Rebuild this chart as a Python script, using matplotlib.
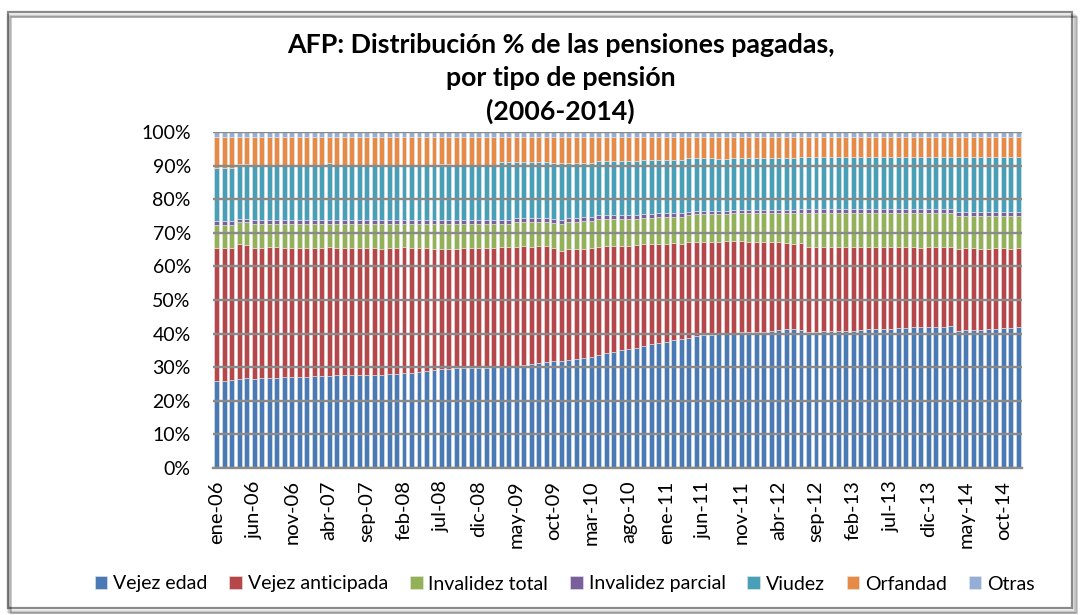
import matplotlib
matplotlib.use("Agg")
import matplotlib.pyplot as plt
import numpy as np
from matplotlib.patches import Rectangle

plt.rcParams['font.family'] = ['Lato', 'DejaVu Sans']

meses = ['ene', 'feb', 'mar', 'abr', 'may', 'jun', 'jul', 'ago', 'sep', 'oct', 'nov', 'dic']
anios = ['06', '07', '08', '09', '10', '11', '12', '13', '14']
periodos = [f'{m}-{a}' for a in anios for m in meses]

vejez_edad = [
    25.9, 26.0, 26.1, 26.5, 26.6, 26.6, 26.7, 26.8, 26.9, 27.0, 27.1, 27.2,
    27.2, 27.3, 27.4, 27.5, 27.6, 27.6, 27.7, 27.7, 27.8, 27.8, 27.8, 27.9,
    28.0, 28.2, 28.4, 28.7, 28.9, 29.1, 29.4, 29.5, 29.7, 29.8, 29.9, 29.9,
    29.9, 30.0, 30.0, 30.2, 30.4, 30.6, 30.9, 31.2, 31.4, 31.7, 31.8, 32.0,
    32.3, 32.7, 33.0, 33.5, 34.1, 34.6, 35.1, 35.4, 35.7, 36.2, 36.8, 37.1,
    37.4, 38.0, 38.4, 38.8, 39.3, 39.6, 39.6, 39.9, 40.1, 40.3, 40.4, 40.6,
    40.6, 40.6, 40.8, 41.0, 41.3, 41.4, 41.1, 40.6, 40.6, 40.9, 40.9, 40.7,
    40.8, 40.9, 41.1, 41.4, 41.5, 41.5, 41.5, 41.7, 41.8, 41.9, 42.0, 42.0,
    42.0, 42.1, 42.4, 40.8, 41.0, 41.2, 41.2, 41.4, 41.5, 41.7, 41.8, 41.9,
]
vejez_anticipada = [
    39.7, 39.6, 39.5, 39.9, 39.7, 38.9, 38.8, 39.1, 39.0, 38.5, 38.3, 38.2,
    38.3, 38.3, 38.1, 38.4, 38.0, 37.8, 37.7, 37.8, 37.6, 37.6, 37.5, 37.6,
    37.6, 37.5, 37.1, 36.7, 36.5, 36.2, 35.8, 35.7, 35.6, 35.6, 35.5, 35.5,
    35.6, 35.6, 35.9, 35.7, 35.5, 35.4, 35.0, 34.8, 34.7, 33.9, 32.8, 33.3,
    33.0, 32.6, 32.4, 32.4, 32.0, 31.6, 31.1, 30.8, 30.6, 30.6, 30.0, 29.7,
    29.4, 28.9, 28.4, 28.4, 28.1, 27.8, 27.8, 27.4, 27.4, 27.4, 27.1, 26.7,
    26.6, 26.6, 26.4, 26.3, 25.8, 25.3, 26.0, 25.3, 25.2, 24.9, 25.0, 25.1,
    24.9, 24.9, 24.7, 24.4, 24.4, 24.3, 24.3, 24.1, 24.1, 23.8, 23.6, 23.7,
    23.7, 23.6, 23.4, 24.5, 24.4, 24.2, 24.1, 23.9, 23.9, 23.7, 23.5, 23.5,
]
invalidez_total = [
    6.7, 6.7, 6.7, 6.7, 6.8, 7.0, 7.0, 6.6, 6.6, 7.0, 7.1, 7.1,
    7.0, 6.9, 7.0, 6.6, 6.9, 7.1, 7.1, 7.0, 7.1, 7.1, 7.2, 7.0,
    6.9, 6.8, 7.0, 7.1, 7.1, 7.2, 7.3, 7.3, 7.2, 7.1, 7.1, 7.1,
    7.0, 6.9, 6.6, 6.6, 7.2, 7.1, 7.2, 7.1, 7.0, 7.3, 8.0, 7.9,
    7.9, 8.2, 8.1, 8.2, 8.0, 7.9, 7.9, 7.9, 7.8, 7.7, 7.7, 8.0,
    8.0, 7.9, 8.0, 8.0, 8.1, 8.1, 8.1, 8.2, 8.0, 8.1, 8.3, 8.5,
    8.6, 8.6, 8.6, 8.5, 8.7, 9.1, 8.9, 10.1, 10.2, 10.2, 10.1, 10.2,
    10.3, 10.2, 10.2, 10.2, 10.1, 10.2, 10.2, 10.2, 10.1, 10.3, 10.4, 10.3,
    10.3, 10.3, 10.2, 9.6, 9.5, 9.5, 9.6, 9.6, 9.5, 9.5, 9.6, 9.5,
]
invalidez_parcial = [
    1.2, 1.2, 1.2, 1.0, 1.0, 1.2, 1.2, 1.2, 1.2, 1.2, 1.2, 1.2,
    1.2, 1.2, 1.2, 1.2, 1.2, 1.2, 1.2, 1.2, 1.2, 1.2, 1.2, 1.2,
    1.2, 1.2, 1.2, 1.2, 1.2, 1.2, 1.2, 1.2, 1.2, 1.2, 1.2, 1.2,
    1.2, 1.2, 1.2, 1.2, 1.2, 1.2, 1.2, 1.2, 1.2, 1.1, 1.1, 1.1,
    1.1, 1.1, 1.1, 1.1, 1.1, 1.1, 1.1, 1.1, 1.1, 1.1, 1.1, 1.1,
    1.1, 1.1, 1.1, 1.1, 1.1, 1.1, 1.1, 1.1, 1.1, 1.1, 1.1, 1.1,
    1.1, 1.1, 1.1, 1.1, 1.1, 1.1, 1.1, 1.1, 1.1, 1.1, 1.1, 1.1,
    1.1, 1.1, 1.1, 1.1, 1.1, 1.1, 1.1, 1.1, 1.1, 1.1, 1.1, 1.1,
    1.1, 1.1, 1.1, 1.3, 1.3, 1.3, 1.3, 1.3, 1.3, 1.3, 1.3, 1.3,
]
viudez = [
    15.9, 15.9, 15.9, 16.3, 16.3, 16.2, 16.2, 16.2, 16.2, 16.2, 16.2, 16.2,
    16.2, 16.2, 16.2, 17.0, 16.5, 16.5, 16.5, 16.5, 16.5, 16.5, 16.5, 16.5,
    16.5, 16.5, 16.5, 16.5, 16.5, 16.5, 16.9, 16.9, 16.6, 16.6, 16.6, 16.6,
    16.6, 16.6, 17.5, 17.5, 16.9, 16.9, 16.9, 16.9, 16.9, 16.7, 17.0, 16.6,
    16.6, 16.3, 16.3, 16.3, 16.3, 16.3, 16.3, 16.3, 16.3, 16.1, 16.1, 15.8,
    15.8, 15.8, 15.8, 15.9, 15.6, 15.6, 15.6, 15.3, 15.3, 15.5, 15.5, 15.5,
    15.5, 15.5, 15.5, 15.5, 15.5, 15.5, 15.6, 15.6, 15.6, 15.6, 15.6, 15.6,
    15.6, 15.6, 15.6, 15.6, 15.6, 15.6, 15.6, 15.6, 15.6, 15.6, 15.6, 15.6,
    15.6, 15.6, 15.6, 16.5, 16.5, 16.5, 16.5, 16.5, 16.5, 16.5, 16.5, 16.5,
]
orfandad = [
    9.0, 9.0, 9.0, 7.8, 7.8, 8.5, 8.5, 8.5, 8.5, 8.5, 8.5, 8.5,
    8.5, 8.5, 8.5, 7.7, 8.2, 8.2, 8.2, 8.2, 8.2, 8.2, 8.2, 8.2,
    8.2, 8.2, 8.2, 8.2, 8.2, 8.2, 7.8, 7.8, 8.1, 8.1, 8.1, 8.1,
    8.1, 8.1, 7.2, 7.2, 7.2, 7.2, 7.2, 7.2, 7.2, 7.7, 7.7, 7.5,
    7.5, 7.5, 7.5, 6.9, 6.9, 6.9, 6.9, 6.9, 6.9, 6.7, 6.7, 6.7,
    6.7, 6.7, 6.7, 6.2, 6.2, 6.2, 6.2, 6.5, 6.5, 6.0, 6.0, 6.0,
    6.0, 6.0, 6.0, 6.0, 6.0, 6.0, 5.7, 5.7, 5.7, 5.7, 5.7, 5.7,
    5.7, 5.7, 5.7, 5.7, 5.7, 5.7, 5.7, 5.7, 5.7, 5.7, 5.7, 5.7,
    5.7, 5.7, 5.7, 5.7, 5.7, 5.7, 5.7, 5.7, 5.7, 5.7, 5.7, 5.7,
]
otras = [1.6] * 108

series_nombres = ['Vejez edad', 'Vejez anticipada', 'Invalidez total',
                  'Invalidez parcial', 'Viudez', 'Orfandad', 'Otras']
series_valores = [vejez_edad, vejez_anticipada, invalidez_total,
                  invalidez_parcial, viudez, orfandad, otras]
colores = ['#4A7AB5', '#B5474A', '#93B157', '#79609C', '#479FB8', '#E68A45', '#94AED6']

fig = plt.figure(figsize=(10.8, 6.15), dpi=100)
fig.patch.set_facecolor('white')

# chart frame with soft shadow
for i, a in enumerate([0.10, 0.16, 0.25]):
    fig.add_artist(Rectangle((8 / 1080 + i * 0.0012, 4 / 615 - i * 0.002),
                             1066 / 1080, 596 / 615, transform=fig.transFigure,
                             fill=False, edgecolor='black', alpha=a, lw=2.5 - i * 0.7))
fig.add_artist(Rectangle((8 / 1080, 7 / 615), 1064 / 1080, 596 / 615,
                         transform=fig.transFigure, facecolor='white',
                         edgecolor='#8a8a8a', lw=1.6, zorder=-1))

ax = fig.add_axes([213 / 1080, (615 - 468) / 615, 809 / 1080, 336 / 615])
data = np.array(series_valores, dtype=float)
totals = data.sum(axis=0)
pct = data / totals * 100
x = np.arange(len(periodos))
bottom = np.zeros(len(periodos))
handles = []
for nombre, vals, c in zip(series_nombres, pct, colores):
    h = ax.bar(x, vals, bottom=bottom, width=0.66, color=c, label=nombre,
               edgecolor='#e8e8e8', linewidth=0.4, zorder=2)
    handles.append(h)
    bottom += vals

ax.set_xlim(-0.5, len(periodos) - 0.5)
ax.set_ylim(0, 100)
ax.set_yticks(np.arange(0, 101, 10))
ax.set_yticklabels([f'{v}%' for v in range(0, 101, 10)], fontsize=14)
ax.set_xticks(x[::5])
ax.set_xticklabels(periodos[::5], rotation=90, fontsize=14.5)
ax.tick_params(axis='y', length=0, pad=16)
ax.tick_params(axis='x', length=0, pad=9)
ax.grid(axis='y', color='#8a8a8a', linewidth=1.7, zorder=3)
ax.set_axisbelow(False)
for s in ['top', 'right', 'left']:
    ax.spines[s].set_visible(False)
ax.spines['bottom'].set_color('#8a8a8a')
ax.spines['bottom'].set_linewidth(1.7)
ax.spines['bottom'].set_zorder(4)

tkw = dict(ha='center', va='center', fontsize=19.3, fontweight='bold')
fig.text(0.519, 1 - 45 / 615, 'AFP: Distribución % de las pensiones pagadas,', **tkw)
fig.text(0.519, 1 - 78 / 615, 'por tipo de pensión', **tkw)
fig.text(0.519, 1 - 111 / 615, '(2006-2014)', **tkw)

fig.legend(handles=handles, labels=series_nombres, loc='center',
           bbox_to_anchor=(0.523, 1 - 584 / 615), ncol=7, frameon=False,
           fontsize=14, handlelength=0.65, handleheight=0.65, handletextpad=0.3,
           columnspacing=1.12)

fig.savefig('out.png', dpi=100)
